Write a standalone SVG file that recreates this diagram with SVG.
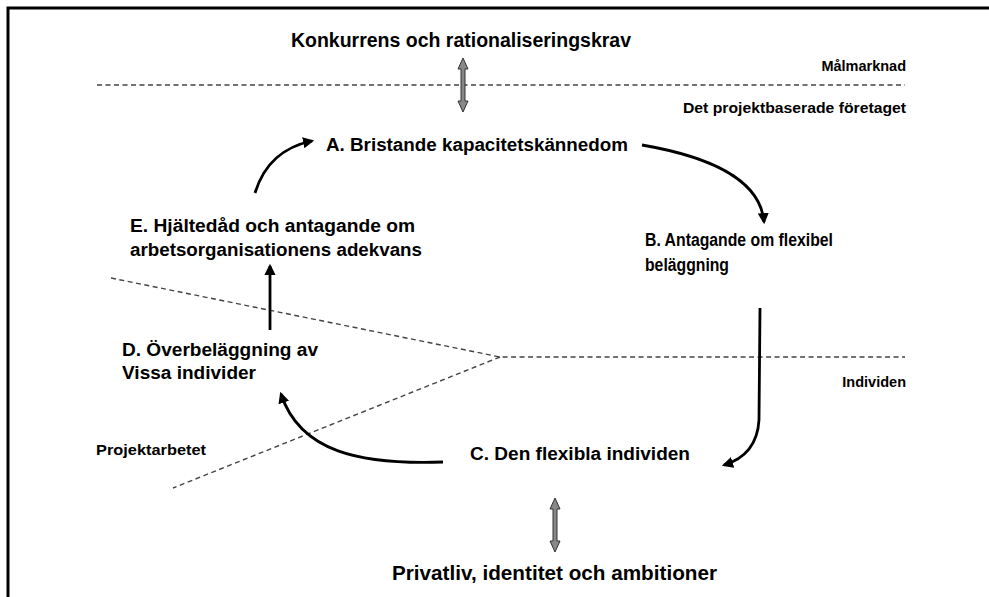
<svg xmlns="http://www.w3.org/2000/svg" width="989" height="597" viewBox="0 0 989 597">
<style>
text{font-family:"Liberation Sans",Arial,sans-serif;font-weight:bold;fill:#000}
.big{font-size:18px}
.title{font-size:20px}
.small{font-size:14.5px}
.dash{fill:none;stroke:#444;stroke-width:1.4;stroke-dasharray:5,3.5}
.flow{fill:none;stroke:#000;stroke-width:2.8;marker-end:url(#ah)}
.dbl{fill:#888;stroke:#333;stroke-width:1}
</style>
<defs>
<marker id="ah" viewBox="0 0 10 10" refX="8" refY="5" markerWidth="4" markerHeight="4" orient="auto" markerUnits="strokeWidth">
<path d="M0,0 L10,5 L0,10 z" fill="#000"/>
</marker>
</defs>
<rect width="989" height="597" fill="#fff"/>
<path d="M8,597 L8,8 L989,8" fill="none" stroke="#000" stroke-width="3"/>

<g id="boundaries">
<line class="dash" x1="97" y1="85" x2="905" y2="85"/>
<polyline class="dash" points="111,278 500,357 905,357"/>
<line class="dash" x1="500" y1="357" x2="173" y2="488"/>
</g>

<g id="connectors">
<path class="flow" d="M255,193 Q268,150 312,141"/>
<path class="flow" d="M642,145 C700,155 760,175 764,222"/>
<path class="flow" d="M760,308 L759,420 Q757,455 724,465"/>
<path class="flow" d="M443,462 C360,465 300,452 281,394"/>
<path class="flow" d="M270,330 L270,266"/>
<polygon class="dbl" points="463,58 468,69 465,69 465,101 468,101 463,112 458,101 461,101 461,69 458,69"/>
<polygon class="dbl" points="555,498 560,509 557,509 557,541 560,541 555,552 550,541 553,541 553,509 550,509"/>
</g>

<g id="title"><text class="title" x="291" y="47" textLength="340" lengthAdjust="spacingAndGlyphs">Konkurrens och rationaliseringskrav</text></g>
<g id="malmarknad"><text class="small" x="906" y="71" text-anchor="end">Målmarknad</text></g>
<g id="foretaget"><text class="small" x="683" y="113" textLength="223" lengthAdjust="spacingAndGlyphs">Det projektbaserade företaget</text></g>
<g id="nodeA"><text class="big" x="326" y="151" textLength="302" lengthAdjust="spacingAndGlyphs">A. Bristande kapacitetskännedom</text></g>
<g id="nodeB"><text class="big" x="645" y="246" textLength="188" lengthAdjust="spacingAndGlyphs">B. Antagande om flexibel</text><text class="big" x="645" y="271" textLength="84" lengthAdjust="spacingAndGlyphs">beläggning</text></g>
<g id="nodeE"><text class="big" x="130" y="232" textLength="285" lengthAdjust="spacingAndGlyphs">E. Hjältedåd och antagande om</text><text class="big" x="130" y="256" textLength="292" lengthAdjust="spacingAndGlyphs">arbetsorganisationens adekvans</text></g>
<g id="nodeD"><text class="big" x="122" y="356" textLength="196" lengthAdjust="spacingAndGlyphs">D. Överbeläggning av</text><text class="big" x="122" y="379" textLength="134" lengthAdjust="spacingAndGlyphs">Vissa individer</text></g>
<g id="individen"><text class="small" x="906" y="387" text-anchor="end">Individen</text></g>
<g id="nodeC"><text class="big" x="470" y="460" textLength="220" lengthAdjust="spacingAndGlyphs">C. Den flexibla individen</text></g>
<g id="projektarbetet"><text class="small" x="96" y="455" textLength="110" lengthAdjust="spacingAndGlyphs">Projektarbetet</text></g>
<g id="privatliv"><text class="title" x="392" y="580" textLength="325" lengthAdjust="spacingAndGlyphs">Privatliv, identitet och ambitioner</text></g>
</svg>
